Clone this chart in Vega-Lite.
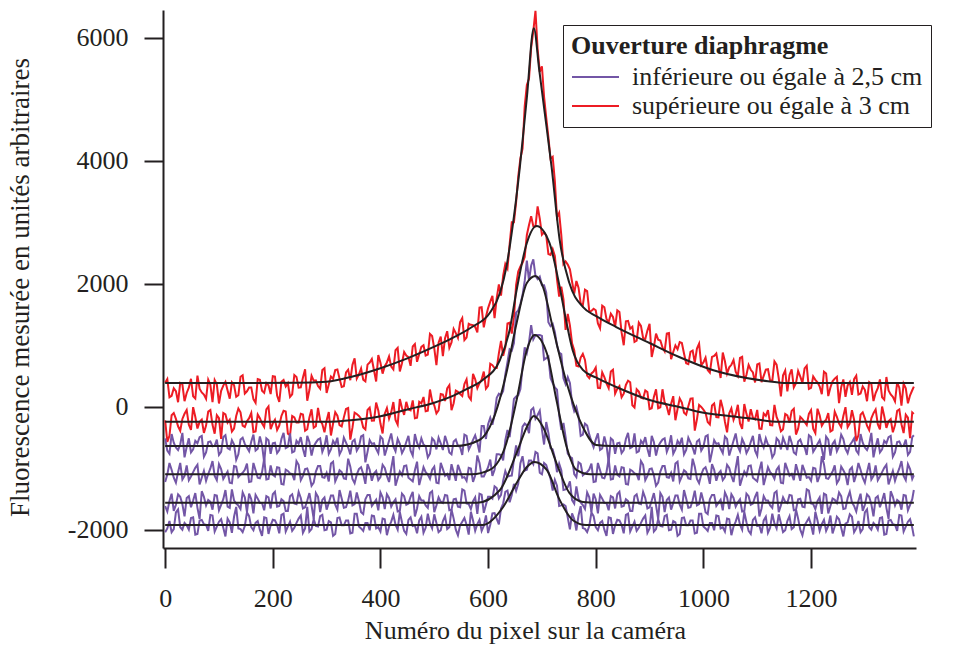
{
"$schema": "https://vega.github.io/schema/vega-lite/v6.json",
"width": 753, "height": 538,
"autosize": {"type": "none"},
"padding": {"left": 163, "top": 10, "right": 43, "bottom": 97},
"background": "white",
"config": {
 "view": {"stroke": null},
 "font": "Liberation Serif",
 "axis": {"grid": false, "domainColor": "#231F20", "domainWidth": 2, "tickColor": "#231F20", "tickWidth": 2, "labelFont": "Liberation Serif", "labelFontSize": 26, "labelColor": "#231F20", "titleFont": "Liberation Serif", "titleFontSize": 26, "titleFontWeight": "normal", "titleColor": "#231F20"},
 "legend": {"titleFont": "Liberation Serif", "labelFont": "Liberation Serif"}
},
"datasets": {
 "series": [
  {"k": "a", "cat": "supérieure ou égale à 3 cm"},
  {"k": "b", "cat": "supérieure ou égale à 3 cm"},
  {"k": "c", "cat": "inférieure ou égale à 2,5 cm"},
  {"k": "d", "cat": "inférieure ou égale à 2,5 cm"},
  {"k": "e", "cat": "inférieure ou égale à 2,5 cm"},
  {"k": "f", "cat": "inférieure ou égale à 2,5 cm"}
 ],
 "noisy": [
{"x":0,"a":394,"b":-218,"c":-510,"d":-1220,"e":-1610,"f":-2035},
{"x":8,"a":157,"b":-470,"c":-760,"d":-910,"e":-1530,"f":-1855},
{"x":16,"a":304,"b":-98,"c":-580,"d":-1150,"e":-1690,"f":-1985},
{"x":24,"a":78,"b":-314,"c":-700,"d":-1060,"e":-1420,"f":-1665},
{"x":32,"a":369,"b":-194,"c":-420,"d":-1180,"e":-1580,"f":-1995},
{"x":40,"a":228,"b":-50,"c":-650,"d":-950,"e":-1480,"f":-1925},
{"x":48,"a":459,"b":-374,"c":-740,"d":-1130,"e":-1630,"f":-1805},
{"x":56,"a":138,"b":-158,"c":-550,"d":-990,"e":-1400,"f":-2075},
{"x":64,"a":296,"b":-242,"c":-490,"d":-1260,"e":-1820,"f":-1845},
{"x":72,"a":203,"b":-422,"c":-810,"d":-1040,"e":-1460,"f":-1905},
{"x":80,"a":446,"b":-74,"c":-570,"d":-1090,"e":-1510,"f":-2015},
{"x":88,"a":77,"b":-290,"c":-640,"d":-880,"e":-1670,"f":-1765},
{"x":96,"a":368,"b":-134,"c":-530,"d":-1190,"e":-1440,"f":-1945},
{"x":104,"a":262,"b":-518,"c":-730,"d":-1010,"e":-1590,"f":-1825},
{"x":112,"a":409,"b":-122,"c":-460,"d":-1110,"e":-1350,"f":-2105},
{"x":120,"a":136,"b":-206,"c":-690,"d":-1230,"e":-1640,"f":-1875},
{"x":128,"a":355,"b":-350,"c":-610,"d":-960,"e":-1520,"f":-1785},
{"x":136,"a":190,"b":-26,"c":-770,"d":-1140,"e":-1600,"f":-1975},
{"x":144,"a":516,"b":-302,"c":-500,"d":-1070,"e":-1390,"f":-2035},
{"x":152,"a":255,"b":-230,"c":-660,"d":-920,"e":-1710,"f":-1715},
{"x":160,"a":318,"b":-98,"c":-560,"d":-1210,"e":-1500,"f":-1955},
{"x":168,"a":69,"b":-398,"c":-710,"d":-1030,"e":-1430,"f":-1885},
{"x":176,"a":444,"b":-182,"c":-480,"d":-1160,"e":-1560,"f":-1995},
{"x":184,"a":230,"b":-326,"c":-900,"d":-840,"e":-1680,"f":-1795},
{"x":192,"a":353,"b":10,"c":-540,"d":-1170,"e":-1470,"f":-2065},
{"x":200,"a":500,"b":-266,"c":-590,"d":-1100,"e":-1420,"f":-1835},
{"x":208,"a":185,"b":-374,"c":-750,"d":-980,"e":-1620,"f":-1915},
{"x":216,"a":410,"b":-146,"c":-520,"d":-1250,"e":-1500,"f":-1755},
{"x":224,"a":334,"b":-74,"c":-670,"d":-1020,"e":-1690,"f":-2025},
{"x":232,"a":163,"b":-458,"c":-430,"d":-1080,"e":-1450,"f":-1865},
{"x":240,"a":520,"b":-170,"c":-720,"d":-1190,"e":-1570,"f":-1965},
{"x":248,"a":313,"b":-254,"c":-600,"d":-940,"e":-1380,"f":-1815},
{"x":256,"a":478,"b":-122,"c":-680,"d":-1120,"e":-1650,"f":-2045},
{"x":264,"a":102,"b":-362,"c":-470,"d":-1000,"e":-1520,"f":-1625},
{"x":272,"a":507,"b":-38,"c":-790,"d":-1280,"e":-1600,"f":-1985},
{"x":280,"a":432,"b":-314,"c":-580,"d":-1050,"e":-1400,"f":-1935},
{"x":288,"a":297,"b":-218,"c":-510,"d":-960,"e":-1710,"f":-1775},
{"x":296,"a":630,"b":-410,"c":-640,"d":-1150,"e":-1470,"f":-2005},
{"x":304,"a":367,"b":-83,"c":-760,"d":-1210,"e":-1560,"f":-1855},
{"x":312,"a":458,"b":-268,"c":-550,"d":-890,"e":-1440,"f":-2095},
{"x":320,"a":608,"b":-142,"c":-500,"d":-1130,"e":-1670,"f":-1805},
{"x":328,"a":326,"b":-316,"c":-700,"d":-1060,"e":-1490,"f":-1925},
{"x":336,"a":561,"b":-33,"c":-580,"d":-1170,"e":-1630,"f":-1845},
{"x":344,"a":435,"b":-531,"c":-770,"d":-970,"e":-1360,"f":-2055},
{"x":352,"a":790,"b":-92,"c":-530,"d":-1240,"e":-1580,"f":-1735},
{"x":360,"a":532,"b":-146,"c":-650,"d":-1010,"e":-1530,"f":-1945},
{"x":368,"a":442,"b":-332,"c":-460,"d":-1090,"e":-1740,"f":-2015},
{"x":376,"a":689,"b":-49,"c":-730,"d":-930,"e":-1430,"f":-1885},
{"x":384,"a":779,"b":-223,"c":-600,"d":-1200,"e":-1610,"f":-1765},
{"x":392,"a":414,"b":72,"c":-680,"d":-1040,"e":-1510,"f":-1975},
{"x":400,"a":720,"b":-270,"c":-480,"d":-1140,"e":-1390,"f":-2025},
{"x":408,"a":663,"b":-109,"c":-790,"d":-990,"e":-1660,"f":-1825},
{"x":416,"a":822,"b":-188,"c":-550,"d":-1220,"e":-1480,"f":-1945},
{"x":424,"a":610,"b":80,"c":-640,"d":-800,"e":-1550,"f":-1755},
{"x":432,"a":961,"b":-287,"c":-520,"d":-1160,"e":-1700,"f":-1995},
{"x":440,"a":712,"b":-18,"c":-750,"d":-1110,"e":-1410,"f":-1875},
{"x":448,"a":835,"b":83,"c":-570,"d":-950,"e":-1590,"f":-2065},
{"x":456,"a":670,"b":-56,"c":-710,"d":-1180,"e":-1460,"f":-1795},
{"x":464,"a":1022,"b":-184,"c":-440,"d":-1030,"e":-1780,"f":-1925},
{"x":472,"a":857,"b":85,"c":-660,"d":-1270,"e":-1450,"f":-1845},
{"x":480,"a":1004,"b":162,"c":-610,"d":-980,"e":-1520,"f":-2045},
{"x":488,"a":851,"b":-61,"c":-820,"d":-1100,"e":-1640,"f":-1735},
{"x":496,"a":1154,"b":100,"c":-510,"d":-1020,"e":-1370,"f":-1975},
{"x":504,"a":681,"b":-105,"c":-690,"d":-1230,"e":-1600,"f":-1885},
{"x":512,"a":1146,"b":212,"c":-590,"d":-910,"e":-1540,"f":-2005},
{"x":520,"a":1119,"b":97,"c":-470,"d":-1120,"e":-1430,"f":-1775},
{"x":528,"a":961,"b":355,"c":-740,"d":-1190,"e":-1680,"f":-1955},
{"x":536,"a":1270,"b":60,"c":-560,"d":-1060,"e":-1500,"f":-1815},
{"x":544,"a":1123,"b":245,"c":-630,"d":-940,"e":-1620,"f":-2085},
{"x":552,"a":1445,"b":179,"c":-780,"d":-1150,"e":-1340,"f":-1865},
{"x":560,"a":1130,"b":448,"c":-470,"d":-1200,"e":-1570,"f":-1915},
{"x":568,"a":1336,"b":120,"c":-620,"d":-1000,"e":-1660,"f":-1705},
{"x":576,"a":1302,"b":452,"c":-460,"d":-1115,"e":-1470,"f":-2015},
{"x":584,"a":1616,"b":388,"c":-740,"d":-910,"e":-1410,"f":-1835},
{"x":592,"a":1294,"b":576,"c":-310,"d":-1130,"e":-1720,"f":-1935},
{"x":600,"a":1608,"b":344,"c":-280,"d":-980,"e":-1460,"f":-2050},
{"x":608,"a":1808,"b":680,"c":-290,"d":-1120,"e":-1490,"f":-1730},
{"x":616,"a":1768,"b":632,"c":150,"d":-770,"e":-1320,"f":-1820},
{"x":624,"a":1812,"b":1076,"c":190,"d":-780,"e":-1430,"f":-1650},
{"x":632,"a":2324,"b":972,"c":530,"d":-540,"e":-1040,"f":-1380},
{"x":640,"a":2644,"b":1372,"c":940,"d":-490,"e":-1120,"f":-1550},
{"x":648,"a":3004,"b":1460,"c":1040,"d":130,"e":-850,"f":-1250},
{"x":656,"a":3748,"b":2202,"c":1570,"d":190,"e":-800,"f":-1250},
{"x":664,"a":4200,"b":2346,"c":1820,"d":640,"e":-320,"f":-800},
{"x":672,"a":5238,"b":2796,"c":2380,"d":880,"e":-300,"f":-1020},
{"x":680,"a":5844,"b":3100,"c":2300,"d":1330,"e":-50,"f":-870},
{"x":688,"a":6440,"b":2936,"c":2130,"d":1170,"e":-190,"f":-730},
{"x":696,"a":5448,"b":3062,"c":2120,"d":1170,"e":-60,"f":-1070},
{"x":704,"a":5044,"b":2838,"c":1980,"d":770,"e":-610,"f":-910},
{"x":712,"a":4388,"b":2488,"c":1380,"d":820,"e":-420,"f":-1060},
{"x":720,"a":4068,"b":2566,"c":1350,"d":390,"e":-690,"f":-1360},
{"x":728,"a":3086,"b":2080,"c":1000,"d":280,"e":-1060,"f":-1280},
{"x":736,"a":2794,"b":1956,"c":860,"d":-370,"e":-1030,"f":-1600},
{"x":744,"a":2366,"b":1252,"c":370,"d":-490,"e":-1340,"f":-1610},
{"x":752,"a":2240,"b":1328,"c":390,"d":-810,"e":-1210,"f":-1990},
{"x":760,"a":1844,"b":924,"c":-70,"d":-1090,"e":-1570,"f":-1820},
{"x":768,"a":1940,"b":660,"c":-150,"d":-900,"e":-1490,"f":-1765},
{"x":776,"a":1652,"b":864,"c":-450,"d":-1110,"e":-1595,"f":-1970},
{"x":784,"a":1886,"b":510,"c":-300,"d":-1060,"e":-1390,"f":-2035},
{"x":792,"a":1562,"b":546,"c":-560,"d":-920,"e":-1710,"f":-1715},
{"x":800,"a":1572,"b":642,"c":-530,"d":-1210,"e":-1500,"f":-1955},
{"x":808,"a":1280,"b":306,"c":-700,"d":-1030,"e":-1430,"f":-1885},
{"x":816,"a":1622,"b":486,"c":-480,"d":-1160,"e":-1560,"f":-1995},
{"x":824,"a":1378,"b":306,"c":-900,"d":-840,"e":-1680,"f":-1795},
{"x":832,"a":1463,"b":606,"c":-540,"d":-1170,"e":-1470,"f":-2065},
{"x":840,"a":1572,"b":294,"c":-590,"d":-1100,"e":-1420,"f":-1835},
{"x":848,"a":1213,"b":158,"c":-750,"d":-980,"e":-1620,"f":-1915},
{"x":856,"a":1394,"b":358,"c":-520,"d":-1250,"e":-1500,"f":-1755},
{"x":864,"a":1274,"b":402,"c":-670,"d":-1020,"e":-1690,"f":-2025},
{"x":872,"a":1059,"b":-10,"c":-430,"d":-1080,"e":-1450,"f":-1865},
{"x":880,"a":1372,"b":250,"c":-720,"d":-1190,"e":-1570,"f":-1965},
{"x":888,"a":1121,"b":138,"c":-600,"d":-940,"e":-1380,"f":-1815},
{"x":896,"a":1242,"b":242,"c":-680,"d":-1120,"e":-1650,"f":-2045},
{"x":904,"a":812,"b":-20,"c":-470,"d":-1000,"e":-1520,"f":-1625},
{"x":912,"a":1194,"b":288,"c":-790,"d":-1280,"e":-1600,"f":-1985},
{"x":920,"a":1080,"b":-4,"c":-580,"d":-1050,"e":-1400,"f":-1935},
{"x":928,"a":906,"b":76,"c":-510,"d":-960,"e":-1710,"f":-1775},
{"x":936,"a":1201,"b":-132,"c":-640,"d":-1150,"e":-1470,"f":-2005},
{"x":944,"a":895,"b":176,"c":-760,"d":-1210,"e":-1560,"f":-1855},
{"x":952,"a":938,"b":-32,"c":-550,"d":-890,"e":-1440,"f":-2095},
{"x":960,"a":1040,"b":72,"c":-500,"d":-1130,"e":-1670,"f":-1805},
{"x":968,"a":710,"b":-124,"c":-700,"d":-1060,"e":-1490,"f":-1925},
{"x":976,"a":897,"b":136,"c":-580,"d":-1170,"e":-1630,"f":-1845},
{"x":984,"a":723,"b":-384,"c":-770,"d":-970,"e":-1360,"f":-2055},
{"x":992,"a":1030,"b":32,"c":-530,"d":-1240,"e":-1580,"f":-1735},
{"x":1000,"a":724,"b":-44,"c":-650,"d":-1010,"e":-1530,"f":-1945},
{"x":1008,"a":601,"b":-244,"c":-460,"d":-1090,"e":-1740,"f":-2015},
{"x":1016,"a":814,"b":24,"c":-730,"d":-930,"e":-1430,"f":-1885},
{"x":1024,"a":870,"b":-164,"c":-600,"d":-1200,"e":-1610,"f":-1765},
{"x":1032,"a":471,"b":116,"c":-680,"d":-1040,"e":-1510,"f":-1975},
{"x":1040,"a":744,"b":-240,"c":-480,"d":-1140,"e":-1390,"f":-2025},
{"x":1048,"a":645,"b":-104,"c":-790,"d":-990,"e":-1660,"f":-1825},
{"x":1056,"a":762,"b":-208,"c":-550,"d":-1220,"e":-1480,"f":-1945},
{"x":1064,"a":506,"b":36,"c":-640,"d":-800,"e":-1550,"f":-1755},
{"x":1072,"a":815,"b":-356,"c":-520,"d":-1160,"e":-1700,"f":-1995},
{"x":1080,"a":524,"b":-112,"c":-750,"d":-1110,"e":-1410,"f":-1875},
{"x":1088,"a":605,"b":-36,"c":-570,"d":-950,"e":-1590,"f":-2065},
{"x":1096,"a":398,"b":-200,"c":-710,"d":-1180,"e":-1460,"f":-1795},
{"x":1104,"a":708,"b":-351,"c":-440,"d":-1030,"e":-1780,"f":-1925},
{"x":1112,"a":505,"b":-106,"c":-660,"d":-1270,"e":-1450,"f":-1845},
{"x":1120,"a":614,"b":-52,"c":-610,"d":-980,"e":-1520,"f":-2045},
{"x":1128,"a":423,"b":-298,"c":-820,"d":-1100,"e":-1640,"f":-1735},
{"x":1136,"a":688,"b":-161,"c":-510,"d":-1020,"e":-1370,"f":-1975},
{"x":1144,"a":172,"b":-395,"c":-690,"d":-1230,"e":-1600,"f":-1885},
{"x":1152,"a":593,"b":-112,"c":-590,"d":-910,"e":-1540,"f":-2005},
{"x":1160,"a":522,"b":-256,"c":-470,"d":-1120,"e":-1430,"f":-1775},
{"x":1168,"a":319,"b":-28,"c":-740,"d":-1190,"e":-1680,"f":-1955},
{"x":1176,"a":584,"b":-352,"c":-560,"d":-1060,"e":-1500,"f":-1815},
{"x":1184,"a":392,"b":-196,"c":-630,"d":-940,"e":-1620,"f":-2085},
{"x":1192,"a":669,"b":-292,"c":-780,"d":-1150,"e":-1340,"f":-1865},
{"x":1200,"a":310,"b":-52,"c":-490,"d":-1200,"e":-1570,"f":-1915},
{"x":1208,"a":442,"b":-424,"c":-670,"d":-1000,"e":-1660,"f":-1705},
{"x":1216,"a":334,"b":-136,"c":-540,"d":-1120,"e":-1470,"f":-2015},
{"x":1224,"a":574,"b":-244,"c":-860,"d":-930,"e":-1410,"f":-1835},
{"x":1232,"a":178,"b":-100,"c":-530,"d":-1170,"e":-1730,"f":-1935},
{"x":1240,"a":418,"b":-376,"c":-600,"d":-1050,"e":-1490,"f":-2055},
{"x":1248,"a":490,"b":-160,"c":-720,"d":-1240,"e":-1560,"f":-1785},
{"x":1256,"a":322,"b":-328,"c":-450,"d":-970,"e":-1450,"f":-1965},
{"x":1264,"a":166,"b":-4,"c":-680,"d":-1100,"e":-1650,"f":-1895},
{"x":1272,"a":406,"b":-268,"c":-620,"d":-1020,"e":-1380,"f":-1745},
{"x":1280,"a":454,"b":-208,"c":-510,"d":-1220,"e":-1610,"f":-2035},
{"x":1288,"a":202,"b":-460,"c":-760,"d":-910,"e":-1530,"f":-1855},
{"x":1296,"a":334,"b":-88,"c":-580,"d":-1150,"e":-1690,"f":-1985},
{"x":1304,"a":94,"b":-304,"c":-700,"d":-1060,"e":-1420,"f":-1665},
{"x":1312,"a":376,"b":-184,"c":-420,"d":-1180,"e":-1580,"f":-1995},
{"x":1320,"a":226,"b":-40,"c":-650,"d":-950,"e":-1480,"f":-1925},
{"x":1328,"a":448,"b":-364,"c":-740,"d":-1130,"e":-1630,"f":-1805},
{"x":1336,"a":118,"b":-148,"c":-550,"d":-990,"e":-1400,"f":-2075},
{"x":1344,"a":268,"b":-232,"c":-490,"d":-1260,"e":-1820,"f":-1845},
{"x":1352,"a":166,"b":-412,"c":-810,"d":-1040,"e":-1460,"f":-1905},
{"x":1360,"a":400,"b":-64,"c":-570,"d":-1090,"e":-1510,"f":-2015},
{"x":1368,"a":22,"b":-280,"c":-640,"d":-880,"e":-1670,"f":-1765},
{"x":1376,"a":304,"b":-124,"c":-530,"d":-1190,"e":-1440,"f":-1945},
{"x":1384,"a":190,"b":-508,"c":-730,"d":-1010,"e":-1590,"f":-1825},
{"x":1391,"a":330,"b":-112,"c":-460,"d":-1110,"e":-1350,"f":-2105},
{"x":4,"a":455,"b":-566,"c":-710,"d":-1100,"e":-1700,"f":-1975},
{"x":12,"a":182,"b":-134,"c":-440,"d":-1020,"e":-1410,"f":-2035},
{"x":20,"a":257,"b":-194,"c":-660,"d":-1230,"e":-1590,"f":-1715},
{"x":28,"a":392,"b":-386,"c":-610,"d":-910,"e":-1460,"f":-1955},
{"x":36,"a":94,"b":-110,"c":-820,"d":-1120,"e":-1780,"f":-1885},
{"x":44,"a":313,"b":-290,"c":-510,"d":-1190,"e":-1450,"f":-1995},
{"x":52,"a":172,"b":-2,"c":-690,"d":-1060,"e":-1520,"f":-1795},
{"x":60,"a":511,"b":-350,"c":-590,"d":-940,"e":-1640,"f":-2065},
{"x":68,"a":237,"b":-206,"c":-470,"d":-1150,"e":-1370,"f":-1835},
{"x":76,"a":132,"b":-302,"c":-740,"d":-1200,"e":-1600,"f":-1915},
{"x":84,"a":363,"b":-50,"c":-560,"d":-1000,"e":-1540,"f":-1755},
{"x":92,"a":438,"b":-434,"c":-630,"d":-1120,"e":-1430,"f":-2025},
{"x":100,"a":57,"b":-182,"c":-780,"d":-930,"e":-1680,"f":-1865},
{"x":108,"a":348,"b":-98,"c":-490,"d":-1170,"e":-1500,"f":-1965},
{"x":116,"a":267,"b":-254,"c":-670,"d":-1050,"e":-1620,"f":-1815},
{"x":124,"a":402,"b":-398,"c":-540,"d":-1240,"e":-1340,"f":-2045},
{"x":132,"a":165,"b":-146,"c":-860,"d":-970,"e":-1570,"f":-1625},
{"x":140,"a":491,"b":-86,"c":-530,"d":-1100,"e":-1660,"f":-1985},
{"x":148,"a":218,"b":-326,"c":-600,"d":-1020,"e":-1470,"f":-1935},
{"x":156,"a":317,"b":-182,"c":-720,"d":-1220,"e":-1410,"f":-1775},
{"x":164,"a":128,"b":-410,"c":-450,"d":-910,"e":-1730,"f":-2005},
{"x":172,"a":455,"b":-122,"c":-680,"d":-1150,"e":-1490,"f":-1855},
{"x":180,"a":265,"b":-266,"c":-620,"d":-1060,"e":-1560,"f":-2095},
{"x":188,"a":388,"b":-38,"c":-510,"d":-1180,"e":-1450,"f":-1805},
{"x":196,"a":210,"b":-362,"c":-760,"d":-950,"e":-1650,"f":-1925},
{"x":204,"a":493,"b":-206,"c":-580,"d":-1130,"e":-1380,"f":-1845},
{"x":212,"a":84,"b":-302,"c":-700,"d":-990,"e":-1610,"f":-2055},
{"x":220,"a":438,"b":-62,"c":-420,"d":-1260,"e":-1530,"f":-1735},
{"x":228,"a":387,"b":-434,"c":-650,"d":-1040,"e":-1690,"f":-1945},
{"x":236,"a":204,"b":-146,"c":-740,"d":-1090,"e":-1420,"f":-2015},
{"x":244,"a":489,"b":-254,"c":-550,"d":-880,"e":-1580,"f":-1885},
{"x":252,"a":318,"b":-110,"c":-490,"d":-1190,"e":-1480,"f":-1765},
{"x":260,"a":614,"b":-386,"c":-810,"d":-1010,"e":-1630,"f":-1975},
{"x":268,"a":275,"b":-170,"c":-570,"d":-1110,"e":-1400,"f":-2025},
{"x":276,"a":428,"b":-338,"c":-640,"d":-1230,"e":-1820,"f":-1825},
{"x":284,"a":341,"b":-14,"c":-530,"d":-960,"e":-1460,"f":-1945},
{"x":292,"a":602,"b":-278,"c":-730,"d":-1140,"e":-1510,"f":-1755},
{"x":300,"a":229,"b":-218,"c":-460,"d":-1070,"e":-1670,"f":-1995},
{"x":308,"a":497,"b":-464,"c":-690,"d":-920,"e":-1440,"f":-1875},
{"x":316,"a":599,"b":-85,"c":-610,"d":-1210,"e":-1590,"f":-2065},
{"x":324,"a":461,"b":-295,"c":-770,"d":-1030,"e":-1350,"f":-1795},
{"x":332,"a":336,"b":-169,"c":-500,"d":-1160,"e":-1640,"f":-1925},
{"x":340,"a":606,"b":-18,"c":-660,"d":-840,"e":-1520,"f":-1845},
{"x":348,"a":685,"b":-336,"c":-560,"d":-1170,"e":-1600,"f":-2045},
{"x":356,"a":463,"b":-113,"c":-710,"d":-1100,"e":-1390,"f":-1735},
{"x":364,"a":625,"b":-191,"c":-480,"d":-980,"e":-1710,"f":-1975},
{"x":372,"a":416,"b":-364,"c":-900,"d":-1250,"e":-1500,"f":-1885},
{"x":380,"a":722,"b":-10,"c":-540,"d":-1020,"e":-1430,"f":-2005},
{"x":388,"a":597,"b":-220,"c":-590,"d":-1080,"e":-1560,"f":-1775},
{"x":396,"a":843,"b":-57,"c":-750,"d":-1190,"e":-1680,"f":-1955},
{"x":404,"a":542,"b":-430,"c":-520,"d":-940,"e":-1470,"f":-1815},
{"x":412,"a":724,"b":-17,"c":-670,"d":-1120,"e":-1420,"f":-2085},
{"x":420,"a":656,"b":-84,"c":-430,"d":-1000,"e":-1620,"f":-1865},
{"x":428,"a":923,"b":-211,"c":-720,"d":-1280,"e":-1500,"f":-1915},
{"x":436,"a":578,"b":130,"c":-600,"d":-1050,"e":-1690,"f":-1705},
{"x":444,"a":893,"b":-129,"c":-680,"d":-960,"e":-1450,"f":-2015},
{"x":452,"a":812,"b":-40,"c":-470,"d":-1150,"e":-1570,"f":-1835},
{"x":460,"a":984,"b":108,"c":-790,"d":-1210,"e":-1380,"f":-1935},
{"x":468,"a":735,"b":-175,"c":-580,"d":-890,"e":-1650,"f":-2055},
{"x":476,"a":978,"b":58,"c":-510,"d":-1130,"e":-1520,"f":-1785},
{"x":484,"a":837,"b":-69,"c":-640,"d":-1060,"e":-1600,"f":-1965},
{"x":492,"a":1188,"b":284,"c":-760,"d":-1170,"e":-1400,"f":-1895},
{"x":500,"a":953,"b":27,"c":-550,"d":-970,"e":-1710,"f":-1745},
{"x":508,"a":1045,"b":-54,"c":-500,"d":-1240,"e":-1470,"f":-2035},
{"x":516,"a":826,"b":202,"c":-700,"d":-1010,"e":-1560,"f":-1855},
{"x":524,"a":1232,"b":304,"c":-580,"d":-1090,"e":-1440,"f":-1985},
{"x":532,"a":1049,"b":-51,"c":-770,"d":-930,"e":-1670,"f":-1665},
{"x":540,"a":1202,"b":266,"c":-530,"d":-1200,"e":-1490,"f":-1995},
{"x":548,"a":1380,"b":212,"c":-650,"d":-1040,"e":-1630,"f":-1925},
{"x":556,"a":1089,"b":373,"c":-450,"d":-1140,"e":-1360,"f":-1805},
{"x":564,"a":1353,"b":170,"c":-695,"d":-990,"e":-1580,"f":-2075},
{"x":572,"a":1331,"b":538,"c":-535,"d":-1218,"e":-1530,"f":-1845},
{"x":580,"a":1213,"b":306,"c":-580,"d":-788,"e":-1740,"f":-1905},
{"x":588,"a":1623,"b":446,"c":-310,"d":-1130,"e":-1425,"f":-2015},
{"x":596,"a":1469,"b":298,"c":-520,"d":-1055,"e":-1590,"f":-1762},
{"x":604,"a":1714,"b":704,"c":-175,"d":-855,"e":-1460,"f":-1915},
{"x":612,"a":1446,"b":632,"c":-125,"d":-1020,"e":-1290,"f":-1725},
{"x":620,"a":1994,"b":872,"c":215,"d":-770,"e":-1485,"f":-1910},
{"x":628,"a":2134,"b":832,"c":260,"d":-870,"e":-1200,"f":-1570},
{"x":636,"a":2250,"b":1358,"c":730,"d":-375,"e":-1135,"f":-1360},
{"x":644,"a":3004,"b":1194,"c":915,"d":-215,"e":-1115,"f":-1430},
{"x":652,"a":3328,"b":1981,"c":1535,"d":170,"e":-625,"f":-1365},
{"x":660,"a":4040,"b":2286,"c":1675,"d":290,"e":-595,"f":-915},
{"x":668,"a":4887,"b":2439,"c":2050,"d":970,"e":-270,"f":-1035},
{"x":676,"a":5337,"b":2960,"c":2055,"d":1050,"e":-425,"f":-870},
{"x":684,"a":6113,"b":2940,"c":2400,"d":1100,"e":-15,"f":-930},
{"x":692,"a":5819,"b":3263,"c":2080,"d":1170,"e":-130,"f":-755},
{"x":700,"a":5540,"b":2800,"c":1980,"d":1155,"e":-365,"f":-1095},
{"x":708,"a":4704,"b":2789,"c":1860,"d":795,"e":-245,"f":-945},
{"x":716,"a":4036,"b":2473,"c":1315,"d":470,"e":-670,"f":-1165},
{"x":724,"a":3679,"b":2455,"c":1220,"d":320,"e":-825,"f":-1185},
{"x":732,"a":3156,"b":1796,"c":885,"d":-130,"e":-920,"f":-1610},
{"x":740,"a":2322,"b":1748,"c":465,"d":-260,"e":-1350,"f":-1585},
{"x":748,"a":2315,"b":1512,"c":485,"d":-760,"e":-1305,"f":-1800},
{"x":756,"a":2036,"b":1036,"c":65,"d":-830,"e":-1515,"f":-1730},
{"x":764,"a":2048,"b":672,"c":0,"d":-1140,"e":-1290,"f":-2008},
{"x":772,"a":1688,"b":804,"c":-470,"d":-925,"e":-1553,"f":-1613},
{"x":780,"a":1907,"b":765,"c":-270,"d":-1080,"e":-1658,"f":-1983},
{"x":788,"a":1556,"b":468,"c":-450,"d":-1015,"e":-1470,"f":-1935},
{"x":796,"a":1597,"b":576,"c":-655,"d":-1220,"e":-1410,"f":-1775},
{"x":804,"a":1360,"b":312,"c":-430,"d":-910,"e":-1730,"f":-2005},
{"x":812,"a":1649,"b":564,"c":-675,"d":-1150,"e":-1490,"f":-1855},
{"x":820,"a":1428,"b":384,"c":-620,"d":-1060,"e":-1560,"f":-2095},
{"x":828,"a":1517,"b":576,"c":-510,"d":-1180,"e":-1450,"f":-1805},
{"x":836,"a":1302,"b":216,"c":-760,"d":-950,"e":-1650,"f":-1925},
{"x":844,"a":1543,"b":340,"c":-580,"d":-1130,"e":-1380,"f":-1845},
{"x":852,"a":1004,"b":216,"c":-700,"d":-990,"e":-1610,"f":-2055},
{"x":860,"a":1400,"b":428,"c":-420,"d":-1260,"e":-1530,"f":-1735},
{"x":868,"a":1305,"b":28,"c":-650,"d":-1040,"e":-1690,"f":-1945},
{"x":876,"a":1078,"b":288,"c":-740,"d":-1090,"e":-1420,"f":-2015},
{"x":884,"a":1319,"b":152,"c":-550,"d":-880,"e":-1580,"f":-1885},
{"x":892,"a":1104,"b":268,"c":-490,"d":-1190,"e":-1480,"f":-1765},
{"x":900,"a":1351,"b":-33,"c":-810,"d":-1010,"e":-1630,"f":-1975},
{"x":908,"a":973,"b":164,"c":-570,"d":-1110,"e":-1400,"f":-2025},
{"x":916,"a":1095,"b":-20,"c":-640,"d":-1230,"e":-1820,"f":-1825},
{"x":924,"a":969,"b":288,"c":-530,"d":-960,"e":-1460,"f":-1945},
{"x":932,"a":1192,"b":8,"c":-730,"d":-1140,"e":-1510,"f":-1755},
{"x":940,"a":778,"b":52,"c":-460,"d":-1070,"e":-1670,"f":-1995},
{"x":948,"a":1001,"b":-216,"c":-690,"d":-920,"e":-1440,"f":-1875},
{"x":956,"a":1055,"b":140,"c":-610,"d":-1210,"e":-1590,"f":-2065},
{"x":964,"a":869,"b":-92,"c":-770,"d":-1030,"e":-1350,"f":-1795},
{"x":972,"a":696,"b":12,"c":-500,"d":-1160,"e":-1640,"f":-1925},
{"x":980,"a":918,"b":140,"c":-660,"d":-840,"e":-1520,"f":-1845},
{"x":988,"a":949,"b":-200,"c":-560,"d":-1170,"e":-1600,"f":-2045},
{"x":996,"a":679,"b":0,"c":-710,"d":-1100,"e":-1390,"f":-1735},
{"x":1004,"a":801,"b":-96,"c":-480,"d":-980,"e":-1710,"f":-1975},
{"x":1012,"a":558,"b":-284,"c":-900,"d":-1250,"e":-1500,"f":-1885},
{"x":1020,"a":830,"b":56,"c":-540,"d":-1020,"e":-1430,"f":-2005},
{"x":1028,"a":671,"b":-168,"c":-590,"d":-1080,"e":-1560,"f":-1775},
{"x":1036,"a":884,"b":-20,"c":-750,"d":-1190,"e":-1680,"f":-1955},
{"x":1044,"a":545,"b":-412,"c":-520,"d":-940,"e":-1470,"f":-1815},
{"x":1052,"a":686,"b":-24,"c":-670,"d":-1120,"e":-1420,"f":-2085},
{"x":1060,"a":574,"b":-116,"c":-430,"d":-1000,"e":-1620,"f":-1865},
{"x":1068,"a":799,"b":-268,"c":-720,"d":-1280,"e":-1500,"f":-1915},
{"x":1076,"a":412,"b":48,"c":-600,"d":-1050,"e":-1690,"f":-1705},
{"x":1084,"a":685,"b":-236,"c":-680,"d":-960,"e":-1450,"f":-2015},
{"x":1092,"a":562,"b":-172,"c":-470,"d":-1150,"e":-1570,"f":-1835},
{"x":1100,"a":691,"b":-48,"c":-790,"d":-1210,"e":-1380,"f":-1935},
{"x":1108,"a":403,"b":-355,"c":-580,"d":-890,"e":-1650,"f":-2055},
{"x":1116,"a":608,"b":-145,"c":-510,"d":-1130,"e":-1520,"f":-1785},
{"x":1124,"a":429,"b":-295,"c":-640,"d":-1060,"e":-1600,"f":-1965},
{"x":1132,"a":742,"b":34,"c":-760,"d":-1170,"e":-1400,"f":-1895},
{"x":1140,"a":466,"b":-248,"c":-550,"d":-970,"e":-1710,"f":-1745},
{"x":1148,"a":515,"b":-362,"c":-500,"d":-1240,"e":-1470,"f":-2035},
{"x":1156,"a":252,"b":-136,"c":-700,"d":-1010,"e":-1560,"f":-1855},
{"x":1164,"a":613,"b":-64,"c":-580,"d":-1090,"e":-1440,"f":-1985},
{"x":1172,"a":386,"b":-448,"c":-770,"d":-930,"e":-1670,"f":-1665},
{"x":1180,"a":494,"b":-160,"c":-530,"d":-1200,"e":-1490,"f":-1995},
{"x":1188,"a":627,"b":-244,"c":-650,"d":-1040,"e":-1630,"f":-1925},
{"x":1196,"a":292,"b":-112,"c":-460,"d":-1140,"e":-1360,"f":-1805},
{"x":1204,"a":496,"b":-352,"c":-730,"d":-990,"e":-1580,"f":-2075},
{"x":1212,"a":400,"b":-28,"c":-600,"d":-1220,"e":-1530,"f":-1845},
{"x":1220,"a":208,"b":-304,"c":-680,"d":-800,"e":-1740,"f":-1905},
{"x":1228,"a":544,"b":-208,"c":-480,"d":-1160,"e":-1430,"f":-2015},
{"x":1236,"a":316,"b":-400,"c":-790,"d":-1110,"e":-1610,"f":-1765},
{"x":1244,"a":460,"b":-76,"c":-550,"d":-950,"e":-1510,"f":-1945},
{"x":1252,"a":64,"b":-268,"c":-640,"d":-1180,"e":-1390,"f":-1825},
{"x":1260,"a":448,"b":-148,"c":-520,"d":-1030,"e":-1660,"f":-2105},
{"x":1268,"a":352,"b":-328,"c":-750,"d":-1270,"e":-1480,"f":-1875},
{"x":1276,"a":196,"b":-52,"c":-570,"d":-980,"e":-1550,"f":-1785},
{"x":1284,"a":508,"b":-556,"c":-710,"d":-1100,"e":-1700,"f":-1975},
{"x":1292,"a":220,"b":-124,"c":-440,"d":-1020,"e":-1410,"f":-2035},
{"x":1300,"a":280,"b":-184,"c":-660,"d":-1230,"e":-1590,"f":-1715},
{"x":1308,"a":403,"b":-376,"c":-610,"d":-910,"e":-1460,"f":-1955},
{"x":1316,"a":97,"b":-100,"c":-820,"d":-1120,"e":-1780,"f":-1885},
{"x":1324,"a":307,"b":-280,"c":-510,"d":-1190,"e":-1450,"f":-1995},
{"x":1332,"a":157,"b":8,"c":-690,"d":-1060,"e":-1520,"f":-1795},
{"x":1340,"a":487,"b":-340,"c":-590,"d":-940,"e":-1640,"f":-2065},
{"x":1348,"a":205,"b":-196,"c":-470,"d":-1150,"e":-1370,"f":-1835},
{"x":1356,"a":91,"b":-292,"c":-740,"d":-1200,"e":-1600,"f":-1915},
{"x":1364,"a":313,"b":-40,"c":-560,"d":-1000,"e":-1540,"f":-1755},
{"x":1372,"a":379,"b":-424,"c":-630,"d":-1120,"e":-1430,"f":-2025},
{"x":1380,"a":60,"b":-172,"c":-780,"d":-930,"e":-1680,"f":-1865},
{"x":1388,"a":272,"b":-88,"c":-490,"d":-1170,"e":-1500,"f":-1965}
 ],
 "fits": [
{"k":"a","x":0,"y":390},{"k":"a","x":245,"y":392},{"k":"a","x":300,"y":410},{"k":"a","x":350,"y":500},{"k":"a","x":400,"y":630},{"k":"a","x":450,"y":790},{"k":"a","x":500,"y":980},{"k":"a","x":529,"y":1100},{"k":"a","x":570,"y":1300},{"k":"a","x":603,"y":1528},{"k":"a","x":622,"y":1854},{"k":"a","x":634,"y":2276},{"k":"a","x":645,"y":2900},{"k":"a","x":659,"y":3900},{"k":"a","x":672,"y":5030},{"k":"a","x":685,"y":6160},{"k":"a","x":695,"y":5480},{"k":"a","x":705,"y":4800},{"k":"a","x":718,"y":3900},{"k":"a","x":733,"y":2715},{"k":"a","x":751,"y":2016},{"k":"a","x":776,"y":1626},{"k":"a","x":800,"y":1480},{"k":"a","x":838,"y":1300},{"k":"a","x":900,"y":1040},{"k":"a","x":955,"y":813},{"k":"a","x":1017,"y":602},{"k":"a","x":1080,"y":472},{"k":"a","x":1120,"y":420},{"k":"a","x":1154,"y":390},{"k":"a","x":1391,"y":390},
{"k":"b","x":0,"y":-240},{"k":"b","x":297,"y":-240},{"k":"b","x":350,"y":-210},{"k":"b","x":393,"y":-163},{"k":"b","x":450,"y":-40},{"k":"b","x":500,"y":70},{"k":"b","x":529,"y":160},{"k":"b","x":560,"y":290},{"k":"b","x":590,"y":439},{"k":"b","x":622,"y":764},{"k":"b","x":640,"y":1250},{"k":"b","x":653,"y":1902},{"k":"b","x":672,"y":2667},{"k":"b","x":690,"y":2943},{"k":"b","x":714,"y":2667},{"k":"b","x":733,"y":1951},{"k":"b","x":745,"y":1400},{"k":"b","x":757,"y":927},{"k":"b","x":776,"y":602},{"k":"b","x":800,"y":480},{"k":"b","x":838,"y":325},{"k":"b","x":900,"y":114},{"k":"b","x":955,"y":0},{"k":"b","x":993,"y":-81},{"k":"b","x":1040,"y":-140},{"k":"b","x":1080,"y":-179},{"k":"b","x":1141,"y":-240},{"k":"b","x":1391,"y":-240},
{"k":"c","x":0,"y":-634},{"k":"c","x":540,"y":-634},{"k":"c","x":584,"y":-537},{"k":"c","x":609,"y":-211},{"k":"c","x":634,"y":553},{"k":"c","x":653,"y":1366},{"k":"c","x":672,"y":2016},{"k":"c","x":688,"y":2130},{"k":"c","x":702,"y":1951},{"k":"c","x":720,"y":1300},{"k":"c","x":746,"y":390},{"k":"c","x":776,"y":-325},{"k":"c","x":801,"y":-618},{"k":"c","x":830,"y":-634},{"k":"c","x":1391,"y":-634},
{"k":"d","x":0,"y":-1095},{"k":"d","x":570,"y":-1095},{"k":"d","x":603,"y":-1024},{"k":"d","x":634,"y":-585},{"k":"d","x":653,"y":114},{"k":"d","x":672,"y":927},{"k":"d","x":686,"y":1171},{"k":"d","x":709,"y":878},{"k":"d","x":727,"y":114},{"k":"d","x":746,"y":-650},{"k":"d","x":764,"y":-1024},{"k":"d","x":790,"y":-1095},{"k":"d","x":1391,"y":-1095},
{"k":"e","x":0,"y":-1556},{"k":"e","x":580,"y":-1556},{"k":"e","x":622,"y":-1350},{"k":"e","x":653,"y":-748},{"k":"e","x":672,"y":-325},{"k":"e","x":685,"y":-146},{"k":"e","x":702,"y":-325},{"k":"e","x":727,"y":-911},{"k":"e","x":751,"y":-1398},{"k":"e","x":776,"y":-1545},{"k":"e","x":800,"y":-1556},{"k":"e","x":1391,"y":-1556},
{"k":"f","x":0,"y":-1919},{"k":"f","x":590,"y":-1919},{"k":"f","x":628,"y":-1626},{"k":"f","x":653,"y":-1236},{"k":"f","x":672,"y":-976},{"k":"f","x":686,"y":-894},{"k":"f","x":709,"y":-1024},{"k":"f","x":733,"y":-1512},{"k":"f","x":757,"y":-1837},{"k":"f","x":782,"y":-1919},{"k":"f","x":1391,"y":-1919}
 ]
},
"layer": [
 {
  "data": {"name": "noisy"},
  "transform": [
   {"fold": ["a", "b", "c", "d", "e", "f"], "as": ["k", "y"]},
   {"lookup": "k", "from": {"data": {"name": "series"}, "key": "k", "fields": ["cat"]}}
  ],
  "mark": {"type": "line", "strokeWidth": 2, "strokeJoin": "miter"},
  "encoding": {
   "x": {"field": "x", "type": "quantitative", "scale": {"domain": [-4, 1395], "nice": false, "zero": false},
    "axis": {"values": [0, 200, 400, 600, 800, 1000, 1200], "tickSize": 20, "labelPadding": 17, "title": "Numéro du pixel sur la caméra", "titleX": 362, "titleY": 90, "titleAlign": "center", "titleBaseline": "alphabetic", "format": "d"}},
   "y": {"field": "y", "type": "quantitative", "scale": {"domain": [-2293, 6455], "nice": false, "zero": false},
    "axis": {"values": [-2000, 0, 2000, 4000, 6000], "tickSize": 19, "labelPadding": 16, "labelExpr": "'' + datum.value", "title": "Fluorescence mesurée en unités arbitraires", "titleFontSize": 27, "titleX": -135, "titleY": 277, "titleAngle": -90, "titleAlign": "center", "titleBaseline": "alphabetic"}},
   "color": {"field": "cat", "type": "nominal",
    "scale": {"domain": ["inférieure ou égale à 2,5 cm", "supérieure ou égale à 3 cm"], "range": ["#7356A6", "#ED1C24"]},
    "legend": {"title": "Ouverture diaphragme", "orient": "none", "legendX": 400, "legendY": 15, "titleFontSize": 26, "titleFontWeight": "bold", "titleColor": "#231F20", "titlePadding": 5, "titleLimit": 500, "labelLimit": 500, "labelFontSize": 26, "labelColor": "#231F20", "padding": 8, "rowPadding": 3, "clipHeight": 26, "labelOffset": 12, "symbolType": "stroke", "symbolSize": 2209, "symbolStrokeWidth": 2, "strokeColor": "#231F20", "fillColor": "white"}},
   "detail": {"field": "k"}
  }
 },
 {
  "data": {"name": "fits"},
  "mark": {"type": "line", "color": "#231F20", "strokeWidth": 2, "interpolate": "monotone"},
  "encoding": {
   "x": {"field": "x", "type": "quantitative"},
   "y": {"field": "y", "type": "quantitative"},
   "detail": {"field": "k"}
  }
 }
]
}
